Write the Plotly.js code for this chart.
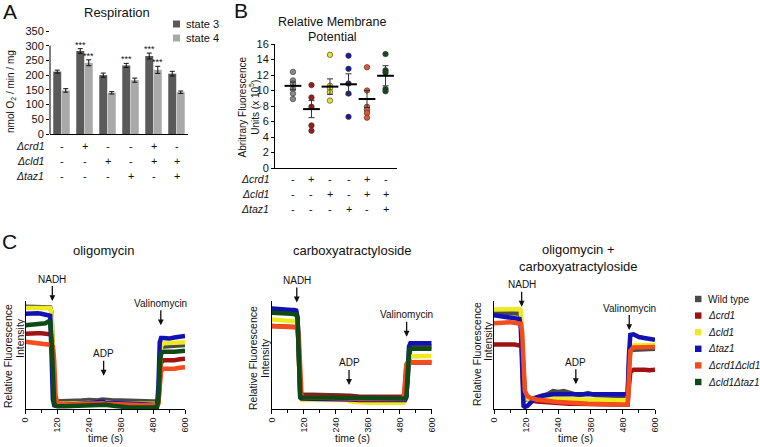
<!DOCTYPE html>
<html><head><meta charset="utf-8">
<script src="https://cdn.plot.ly/plotly-3.0.1.min.js"></script>
<style>html,body{margin:0;padding:0;background:#fff;}#chart{width:760px;height:447px;}</style>
</head><body><div id="chart"></div>
<script>
// ---------- Panel A: respiration ----------
const groupIdx = [0, 1, 2, 3, 4, 5];
const genotypeRows = ["Δcrd1", "Δcld1", "Δtaz1"];
const crd1Signs = ["-", "+", "-", "-", "+", "-"];
const cld1Signs = ["-", "-", "+", "-", "+", "+"];
const taz1Signs = ["-", "-", "-", "+", "-", "+"];
const respTicks = [0, 50, 100, 150, 200, 250, 300, 350];
const state3 = [212, 282, 200, 233, 265, 205];
const state3Err = [5, 8, 7, 7, 10, 8];
const state4 = [148, 242, 140, 183, 218, 142];
const state4Err = [6, 10, 4, 7, 12, 4];
const state3Sig = ["", "***", "", "***", "***", ""];
const state4Sig = ["", "***", "", "", "***", ""];

// ---------- Panel B: membrane potential ----------
const mpWT = [12.4, 11.3, 10.9, 10.2, 9.6, 8.9];
const mpCrd1 = [10.7, 9.1, 7.9, 5.5, 4.8];
const mpCld1 = [14.6, 10.6, 10.3, 9.8, 8.7];
const mpTaz1 = [14.5, 12.8, 10.9, 9.6, 6.6];
const mpCrd1Cld1 = [13.0, 10.0, 7.9, 7.5, 7.1, 6.5];
const mpCld1Taz1 = [14.7, 12.6, 12.3, 10.2, 9.9];
const mpMean = [10.6, 7.6, 10.5, 10.8, 8.9, 11.9];
const mpSem = [0.5, 1.1, 1.0, 1.35, 1.1, 1.3];

// ---------- Panel C: traces ----------
const strains = ["Wild type", "Δcrd1", "Δcld1", "Δtaz1", "Δcrd1Δcld1", "Δcld1Δtaz1"];
const eventNames = ["NADH", "ADP", "Valinomycin"];

const oligoTime = [0,15,30,45,60,75,85,93,98,103,108,113,120,150,180,210,240,270,290,300,330,360,390,420,450,480,495,500,505,510,520,540,560,580,600];
const oligoWT    = [95.5,95.5,96,95.5,95.5,96,95.5,95,90,40,10,6,6, 6,7,7,7.5,7,8,7.5,7,7,6.5,6.5,6,6, 6,8,40,57,58,58.5,59,59,59.5];
const oligoCrd1  = [70,70.5,71,70.5,70.5,70.5,70,69.5,69,55,15,5,3.5, 3.5,4,4,4.5,4.5,5,4.5,4,3.5,3.5,3,3,3, 3,5,25,43,45,44.5,45,46,46.5];
const oligoCld1  = [94.5,94.5,95,94.5,94.5,95,95,94.5,90,45,10,5,4, 4,4,4.5,5,5,5.5,5,4.5,4,4,4,3.5,4, 4,6,35,59,61,61,61.5,61.5,62];
const oligoTaz1  = [89,89.5,90,89.5,89,88.5,88,87,50,8,2.5,2,2, 3,4,4,4.5,5,6,5,4.5,4,4,3.5,3,3, 3,20,62,66,66,65.5,66.5,67,68];
const oligoCrd1Cld1 = [62.5,62,62.5,62,61.5,61,60.5,60,59.5,58,45,12,4, 3,3.5,3.5,4,4,4.5,4,3.5,3,3,2.5,2.5,2.5, 2.5,4,20,35,37,36.5,37,38,38.5];
const oligoCld1Taz1 = [78,78.5,78,78.5,79,80,81.5,81,65,20,4,2,1.5, 1.5,2,2,2.5,3,3.5,3,2,1,0.5,0.5,0,0.5, 1,8,38,52,53,52.5,53,53.5,54];
const oligoEventT = [101, 294, 509];
const oligoEventV = [101, 30.5, 78];

const carboxTime = [0,15,30,45,60,75,85,92,97,102,107,112,120,150,180,210,240,270,285,295,330,360,390,420,450,480,495,500,505,510,515,520,540,560,580,600];
const carboxWT    = [91,91,90.5,90.5,90,90,90,90,85,40,15,13,12.5, 12.5,12.5,12.5,12.5,12.5,12.5,11.5, 10.5,10.5,10.5,10.5,10.5,10.5, 10.5,10.5,12,30,55,58,58,58,58,58];
const carboxCrd1  = [77.5,77.5,77,77,77,76.5,76.5,76.5,76,55,15,12,12, 12,12,12,12,12,12,11, 10,10,10,10,10,10, 10,20,40,43,43,43,43,43,43,43];
const carboxCld1  = [83.5,83,83,82.5,82.5,82,82,82,78,35,9,7.5,7.5, 7.5,7.5,7.5,7.5,7.5,7.5,6, 5,5,5,5,5,5, 5,7,25,45,48,48.5,49,49,49,49];
const carboxTaz1  = [94,93.5,93.5,93,93,92.5,92.5,92,85,30,10,9,9, 9,9,9,9,9,9,8, 7.5,7.5,7.5,7.5,7.5,7.5, 7.5,7.5,10,35,58,61,61,61,61,61];
const carboxCrd1Cld1 = [77.5,77,77,77,76.5,76.5,76.5,76.5,76,65,20,11,10, 10,10,10,10,10,10,9, 8.5,8.5,8.5,8.5,8.5,8.5, 8.5,25,41,43,43,43,43,43,43.5,43.5];
const carboxCld1Taz1 = [90,90,89.5,89,89,89,88.5,88.5,84,35,11,10,10, 10,10,10,10,10,10,9.5, 9,9,9,9,9,9, 9,9,11,32,53,56,56,56,56,56];
const carboxEventT = [94, 290, 506];
const carboxEventV = [99.7, 21.7, 67.3];

const bothTime = [0,15,30,45,60,75,85,95,100,105,110,115,125,140,160,180,200,220,240,260,280,300,320,350,380,410,440,470,490,498,503,508,520,540,560,580,600];
const bothWT    = [90.5,90,90,90,89.5,89.5,89,89,85,40,12,8,8, 9,10,11,13,16,15,16,14,13,12,14,12,12,11,11,11, 11,40,54,55,55,55.5,56,56];
const bothCrd1  = [60,60.5,60,60,60.5,60,59.5,59.5,59,57,38,14,9, 7,6,5.5,5,5,4.5,4.5,4,4,4,3.5,3.5,3,3,3,3, 3,20,34,36,36.5,36,35.5,36];
const bothCld1  = [93,93,92.5,92.5,92.5,93,93.5,93.5,92,55,14,9,8.5, 8.5,8.5,9,9,9,9,8.5,8.5,8.5,8,8,8,7.5,7.5,7,7, 7,35,57,59,59,59.5,59.5,59.5];
const bothTaz1  = [87.5,87,86.5,86,85.5,85,84.5,84,75,15,2,1,2, 6,10,11.5,12.5,13,13,13.5,13,13,13,13,13,13,12.5,12.5,12.5, 13,50,69,69.5,67,66,65.5,64.5];
const bothCrd1Cld1 = [80,80.5,80.5,81,81,80.5,80.5,80,79.5,72,40,16,11, 9,8,7,6.5,6,5.5,5,5,4.5,4.5,4,4,3.5,3.5,3,3, 3,30,54,57,57,57,57.5,57.5];
const bothCld1Taz1 = [];
const bothEventT = [103, 305, 504];
const bothEventV = [95.6, 22.4, 73.6];

// ---------- styles ----------
const FONT = 'Liberation Sans, Arial, Helvetica, sans-serif';
const TXT = '#111';
const strainColors = ['#4a4a4a', '#a01212', '#eeea1e', '#1212b2', '#f44c1c', '#0f4a16'];
const mpColors = ['#8a8a8a', '#9c1b1b', '#e8e02c', '#1b1b9e', '#e2582e', '#17471f'];
const BARGAP = 0.26, BARGROUPGAP = 0.06;
function P(x) { return x / 760; }
function Q(y) { return 1 - y / 447; }

const traces = [];
const annotations = [];
const shapes = [];
function txt(x, y, text, size, opts) {
  annotations.push(Object.assign({xref: 'paper', yref: 'paper', x: P(x), y: Q(y), text: text,
    showarrow: false, font: {family: FONT, size: size, color: TXT}, xanchor: 'center', yanchor: 'middle'}, opts || {}));
}

// Panel A bars
traces.push({type: 'bar', x: groupIdx, y: state3, xaxis: 'x', yaxis: 'y', name: 'state 3',
  marker: {color: '#5a5a5a'}, error_y: {type: 'data', array: state3Err, color: '#111', thickness: 1, width: 2.5}, hoverinfo: 'skip'});
traces.push({type: 'bar', x: groupIdx, y: state4, xaxis: 'x', yaxis: 'y', name: 'state 4',
  marker: {color: '#a9a9a9'}, error_y: {type: 'data', array: state4Err, color: '#111', thickness: 1, width: 2.5}, hoverinfo: 'skip'});
const slot = (1 - BARGAP) / 2;
groupIdx.forEach(function (g) {
  if (state3Sig[g]) annotations.push({xref: 'x', yref: 'y', x: g - slot / 2, y: state3[g] + state3Err[g], text: state3Sig[g],
    showarrow: false, yanchor: 'bottom', yshift: -3, font: {family: FONT, size: 9, color: TXT}});
  if (state4Sig[g]) annotations.push({xref: 'x', yref: 'y', x: g + slot / 2, y: state4[g] + state4Err[g], text: state4Sig[g],
    showarrow: false, yanchor: 'bottom', yshift: -3, font: {family: FONT, size: 9, color: TXT}});
});

// Panel B dots
const mpGroups = [mpWT, mpCrd1, mpCld1, mpTaz1, mpCrd1Cld1, mpCld1Taz1];
mpGroups.forEach(function (vals, g) {
  traces.push({type: 'scatter', mode: 'markers', x: vals.map(function () { return g; }), y: vals, xaxis: 'x2', yaxis: 'y2',
    marker: {size: 5.5, color: mpColors[g], line: {color: '#333', width: 0.6}}, hoverinfo: 'skip', cliponaxis: false});
});
traces.push({type: 'scatter', mode: 'markers', x: groupIdx, y: mpMean, xaxis: 'x2', yaxis: 'y2',
  marker: {symbol: 'line-ew', size: 12, color: '#000', line: {width: 2, color: '#000'}},
  error_y: {type: 'data', array: mpSem, color: '#333', thickness: 1, width: 3}, hoverinfo: 'skip'});

// Panel C traces
const panels = [
  {t: oligoTime, s: [oligoWT, oligoCrd1, oligoCld1, oligoTaz1, oligoCrd1Cld1, oligoCld1Taz1], ax: '3', et: oligoEventT, ev: oligoEventV},
  {t: carboxTime, s: [carboxWT, carboxCrd1, carboxCld1, carboxTaz1, carboxCrd1Cld1, carboxCld1Taz1], ax: '4', et: carboxEventT, ev: carboxEventV},
  {t: bothTime, s: [bothWT, bothCrd1, bothCld1, bothTaz1, bothCrd1Cld1, bothCld1Taz1], ax: '5', et: bothEventT, ev: bothEventV}
];
panels.forEach(function (p) {
  p.s.forEach(function (vals, k) {
    if (!vals.length) return;
    traces.push({type: 'scatter', mode: 'lines', x: p.t, y: vals, xaxis: 'x' + p.ax, yaxis: 'y' + p.ax,
      line: {color: strainColors[k], width: 4.5}, hoverinfo: 'skip', name: strains[k]});
  });
  eventNames.forEach(function (nm, i) {
    annotations.push({xref: 'x' + p.ax, yref: 'y' + p.ax, x: p.et[i], y: p.ev[i], text: nm, showarrow: true,
      ax: 0, ay: -22, arrowhead: 2, arrowsize: 0.9, arrowwidth: 1.3, arrowcolor: '#111', standoff: 0,
      font: {family: FONT, size: 10, color: TXT}});
  });
});

// Texts
txt(10, 11, 'A', 21); txt(241, 10, 'B', 21); txt(9, 242, 'C', 21);
txt(117, 13, 'Respiration', 13);
txt(332, 22, 'Relative Membrane', 12.5); txt(332, 37, 'Potential', 12.5);
txt(103, 250, 'oligomycin', 13);
txt(352, 250, 'carboxyatractyloside', 13);
txt(578, 258, 'oligomycin +<br>carboxyatractyloside', 13);
txt(11, 92, 'nmol O<sub>2</sub> / min / mg', 10, {textangle: -90});
txt(248.5, 107, 'Abritrary Fluorescence<br>Units (x 10<sup>5</sup>)', 10, {textangle: -90});
[[8, 356, 20, 338], [253, 358, 265, 358], [477, 354, 488, 341]].forEach(function (c) {
  txt(c[0], c[1], 'Relative Fluorescence', 10.5, {textangle: -90});
  txt(c[2], c[3], 'Intensity', 10.5, {textangle: -90});
});
[106, 352, 575].forEach(function (x) { txt(x, 438, 'time (s)', 10.5); });

// genotype rows
const signRows = [crd1Signs, cld1Signs, taz1Signs];
[[46, 146, 'x'], [271, 179, 'x2']].forEach(function (cfg) {
  genotypeRows.forEach(function (lab, r) {
    const yy = cfg[1] + r * 15;
    txt(cfg[0], yy, '<i>' + lab + '</i>', 10.5, {xanchor: 'right'});
    groupIdx.forEach(function (g) {
      annotations.push({xref: cfg[2], yref: 'paper', x: g, y: Q(yy), text: signRows[r][g], showarrow: false,
        yanchor: 'middle', font: {family: FONT, size: 11, color: TXT}});
    });
  });
});

// Legend A
[['state 3', '#5a5a5a', 24], ['state 4', '#a9a9a9', 38]].forEach(function (l) {
  shapes.push({type: 'rect', xref: 'paper', yref: 'paper', x0: P(173), x1: P(180), y0: Q(l[2] + 3.5), y1: Q(l[2] - 3.5),
    fillcolor: l[1], line: {width: 0}});
  txt(184, l[2], l[0], 11, {xanchor: 'left'});
});
// Legend C
strains.forEach(function (s, k) {
  const yy = 299 + k * 16.6;
  shapes.push({type: 'rect', xref: 'paper', yref: 'paper', x0: P(695), x1: P(701.5), y0: Q(yy + 3.2), y1: Q(yy - 3.2),
    fillcolor: strainColors[k], line: {width: 0}});
  txt(706, yy, k === 0 ? s : '<i>' + s + '</i>', 10, {xanchor: 'left'});
});
// A y-axis line (axis drawn to 300)
shapes.push({type: 'line', xref: 'x domain', yref: 'y', x0: 0, x1: 0, y0: 0, y1: 300, line: {color: '#000', width: 1}});

const baseX = {showgrid: false, zeroline: false, showline: true, linecolor: '#000', linewidth: 1};
function cx(dom, anchor) {
  return Object.assign({}, baseX, {domain: dom, anchor: anchor, range: [0, 600], tick0: 0, dtick: 120, tickangle: -90,
    ticks: 'outside', ticklen: 4, tickcolor: '#000', tickfont: {family: FONT, size: 9, color: TXT},
    minor: {tick0: 0, dtick: 60, ticks: 'outside', ticklen: 3, tickcolor: '#000', showgrid: false}});
}
function cy(anchor) {
  return Object.assign({}, baseX, {domain: [Q(409), Q(301)], anchor: anchor, range: [-1, 101], ticks: '', showticklabels: false});
}

const layout = {
  width: 760, height: 447, autosize: false, margin: {l: 0, r: 0, t: 0, b: 0, pad: 0},
  paper_bgcolor: '#fff', plot_bgcolor: 'rgba(0,0,0,0)', showlegend: false,
  font: {family: FONT, color: TXT},
  barmode: 'group', bargap: BARGAP, bargroupgap: BARGROUPGAP,
  xaxis: Object.assign({}, baseX, {domain: [P(50), P(188)], anchor: 'y', range: [-0.5, 5.5], ticks: '', showticklabels: false}),
  yaxis: Object.assign({}, baseX, {domain: [Q(134), Q(31)], anchor: 'x', range: [0, 350], tickvals: respTicks, showline: false,
    ticks: 'outside', ticklen: 3, tickcolor: '#000', tickfont: {family: FONT, size: 11, color: TXT}}),
  xaxis2: Object.assign({}, baseX, {domain: [P(275), P(397)], anchor: 'y2', range: [-0.97, 5.62], ticks: '', showticklabels: false}),
  yaxis2: Object.assign({}, baseX, {domain: [Q(168), Q(44)], anchor: 'x2', range: [0, 16], dtick: 2,
    ticks: 'outside', ticklen: 3, tickcolor: '#000', tickfont: {family: FONT, size: 11, color: TXT}}),
  xaxis3: cx([P(25.5), P(185)], 'y3'), yaxis3: cy('x3'),
  xaxis4: cx([P(271.7), P(431.7)], 'y4'), yaxis4: cy('x4'),
  xaxis5: cx([P(494), P(655)], 'y5'), yaxis5: cy('x5'),
  annotations: annotations, shapes: shapes
};
Plotly.newPlot('chart', traces, layout, {displayModeBar: false, staticPlot: true});
</script></body></html>
